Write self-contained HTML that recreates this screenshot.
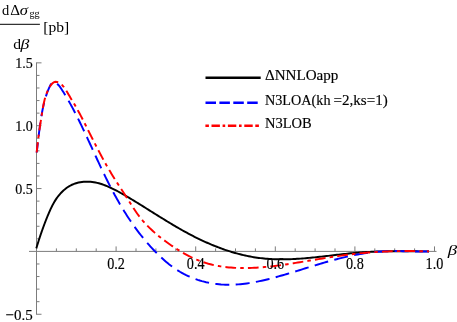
<!DOCTYPE html>
<html><head><meta charset="utf-8"><style>
html,body{margin:0;padding:0;background:#fff;}
svg{display:block;will-change:transform;}
text{font-family:"Liberation Serif",serif;}
</style></head><body>
<svg width="457" height="322" viewBox="0 0 457 322">
<rect width="457" height="322" fill="#fff"/>
<g stroke="#7c7c7c" stroke-width="1" fill="none">
<line x1="29" y1="251.4" x2="436.5" y2="251.4"/>
<line x1="36.5" y1="62.449999999999996" x2="36.5" y2="314.65"/>
<line x1="56.40" y1="251.4" x2="56.40" y2="248.4"/>
<line x1="76.30" y1="251.4" x2="76.30" y2="248.4"/>
<line x1="96.20" y1="251.4" x2="96.20" y2="248.4"/>
<line x1="116.10" y1="251.4" x2="116.10" y2="246.4"/>
<line x1="136.00" y1="251.4" x2="136.00" y2="248.4"/>
<line x1="155.90" y1="251.4" x2="155.90" y2="248.4"/>
<line x1="175.80" y1="251.4" x2="175.80" y2="248.4"/>
<line x1="195.70" y1="251.4" x2="195.70" y2="246.4"/>
<line x1="215.60" y1="251.4" x2="215.60" y2="248.4"/>
<line x1="235.50" y1="251.4" x2="235.50" y2="248.4"/>
<line x1="255.40" y1="251.4" x2="255.40" y2="248.4"/>
<line x1="275.30" y1="251.4" x2="275.30" y2="246.4"/>
<line x1="295.20" y1="251.4" x2="295.20" y2="248.4"/>
<line x1="315.10" y1="251.4" x2="315.10" y2="248.4"/>
<line x1="335.00" y1="251.4" x2="335.00" y2="248.4"/>
<line x1="354.90" y1="251.4" x2="354.90" y2="246.4"/>
<line x1="374.80" y1="251.4" x2="374.80" y2="248.4"/>
<line x1="394.70" y1="251.4" x2="394.70" y2="248.4"/>
<line x1="414.60" y1="251.4" x2="414.60" y2="248.4"/>
<line x1="434.50" y1="251.4" x2="434.50" y2="246.4"/>
<line x1="36.5" y1="314.25" x2="41.5" y2="314.25"/>
<line x1="36.5" y1="301.68" x2="39.5" y2="301.68"/>
<line x1="36.5" y1="289.11" x2="39.5" y2="289.11"/>
<line x1="36.5" y1="276.54" x2="39.5" y2="276.54"/>
<line x1="36.5" y1="263.97" x2="39.5" y2="263.97"/>
<line x1="36.5" y1="238.83" x2="39.5" y2="238.83"/>
<line x1="36.5" y1="226.26" x2="39.5" y2="226.26"/>
<line x1="36.5" y1="213.69" x2="39.5" y2="213.69"/>
<line x1="36.5" y1="201.12" x2="39.5" y2="201.12"/>
<line x1="36.5" y1="188.55" x2="41.5" y2="188.55"/>
<line x1="36.5" y1="175.98" x2="39.5" y2="175.98"/>
<line x1="36.5" y1="163.41" x2="39.5" y2="163.41"/>
<line x1="36.5" y1="150.84" x2="39.5" y2="150.84"/>
<line x1="36.5" y1="138.27" x2="39.5" y2="138.27"/>
<line x1="36.5" y1="125.70" x2="41.5" y2="125.70"/>
<line x1="36.5" y1="113.13" x2="39.5" y2="113.13"/>
<line x1="36.5" y1="100.56" x2="39.5" y2="100.56"/>
<line x1="36.5" y1="87.99" x2="39.5" y2="87.99"/>
<line x1="36.5" y1="75.42" x2="39.5" y2="75.42"/>
<line x1="36.5" y1="62.85" x2="41.5" y2="62.85"/>
</g>
<path d="M36.30,248.40 L36.80,246.71 L37.31,245.04 L37.83,243.37 L38.35,241.71 L38.87,240.05 L39.41,238.40 L39.95,236.76 L40.49,235.12 L41.05,233.48 L41.61,231.85 L42.19,230.23 L42.77,228.60 L43.36,226.98 L43.96,225.36 L44.56,223.74 L45.18,222.12 L45.81,220.50 L46.45,218.88 L47.10,217.25 L47.76,215.63 L48.44,214.01 L49.13,212.38 L49.84,210.77 L50.57,209.16 L51.33,207.57 L52.12,205.99 L52.93,204.42 L53.78,202.88 L54.67,201.37 L55.60,199.88 L56.57,198.42 L57.59,197.00 L58.66,195.61 L59.78,194.27 L60.95,192.97 L62.17,191.72 L63.44,190.52 L64.76,189.38 L66.12,188.31 L67.53,187.30 L68.98,186.37 L70.48,185.52 L72.02,184.74 L73.61,184.06 L75.23,183.46 L76.89,182.95 L78.57,182.53 L80.27,182.19 L81.98,181.94 L83.69,181.76 L85.41,181.66 L87.11,181.64 L88.81,181.68 L90.50,181.80 L92.18,181.98 L93.86,182.23 L95.53,182.53 L97.19,182.90 L98.84,183.31 L100.48,183.78 L102.12,184.30 L103.75,184.86 L105.37,185.47 L106.99,186.11 L108.60,186.80 L110.20,187.51 L111.79,188.26 L113.38,189.04 L114.96,189.84 L116.54,190.66 L118.11,191.50 L119.67,192.36 L121.22,193.24 L122.77,194.12 L124.31,195.01 L125.84,195.91 L127.37,196.80 L128.90,197.71 L130.41,198.61 L131.93,199.52 L133.43,200.43 L134.93,201.35 L136.43,202.26 L137.93,203.18 L139.42,204.10 L140.90,205.02 L142.39,205.94 L143.87,206.86 L145.34,207.78 L146.82,208.71 L148.29,209.63 L149.76,210.55 L151.23,211.47 L152.70,212.39 L154.17,213.31 L155.63,214.23 L157.10,215.15 L158.57,216.06 L160.03,216.98 L161.50,217.89 L162.97,218.79 L164.43,219.70 L165.90,220.60 L167.38,221.50 L168.85,222.39 L170.33,223.28 L171.80,224.17 L173.28,225.05 L174.77,225.92 L176.26,226.80 L177.75,227.66 L179.24,228.52 L180.74,229.38 L182.25,230.23 L183.76,231.07 L185.27,231.90 L186.79,232.73 L188.32,233.55 L189.85,234.37 L191.38,235.17 L192.93,235.97 L194.48,236.76 L196.04,237.54 L197.60,238.31 L199.17,239.08 L200.75,239.83 L202.33,240.57 L203.92,241.31 L205.51,242.03 L207.11,242.74 L208.71,243.45 L210.32,244.14 L211.94,244.82 L213.56,245.48 L215.19,246.14 L216.82,246.78 L218.45,247.41 L220.09,248.03 L221.74,248.63 L223.39,249.22 L225.04,249.80 L226.70,250.36 L228.37,250.91 L230.03,251.44 L231.70,251.96 L233.38,252.46 L235.06,252.95 L236.74,253.42 L238.42,253.87 L240.11,254.31 L241.80,254.73 L243.50,255.13 L245.20,255.51 L246.90,255.88 L248.60,256.23 L250.31,256.56 L252.02,256.88 L253.73,257.17 L255.44,257.44 L257.16,257.70 L258.88,257.93 L260.60,258.15 L262.32,258.34 L264.04,258.52 L265.77,258.67 L267.49,258.81 L269.22,258.93 L270.95,259.04 L272.68,259.12 L274.42,259.19 L276.15,259.25 L277.88,259.29 L279.62,259.31 L281.36,259.32 L283.09,259.32 L284.83,259.30 L286.57,259.27 L288.31,259.23 L290.05,259.17 L291.79,259.10 L293.53,259.03 L295.27,258.94 L297.01,258.84 L298.75,258.73 L300.48,258.61 L302.22,258.48 L303.96,258.35 L305.70,258.21 L307.44,258.06 L309.18,257.90 L310.91,257.74 L312.65,257.57 L314.38,257.39 L316.12,257.21 L317.85,257.03 L319.58,256.84 L321.32,256.65 L323.05,256.45 L324.78,256.25 L326.51,256.05 L328.24,255.85 L329.97,255.65 L331.70,255.45 L333.43,255.25 L335.16,255.05 L336.89,254.84 L338.62,254.64 L340.35,254.45 L342.08,254.25 L343.81,254.06 L345.54,253.87 L347.27,253.69 L349.00,253.51 L350.73,253.33 L352.46,253.16 L354.19,253.00 L355.92,252.84 L357.65,252.69 L359.39,252.54 L361.12,252.41 L362.86,252.28 L364.59,252.16 L366.33,252.05 L368.07,251.95 L369.80,251.86 L371.54,251.77 L373.28,251.70 L375.02,251.63 L376.76,251.57 L378.50,251.51 L380.24,251.46 L381.98,251.42 L383.72,251.38 L385.46,251.35 L387.21,251.32 L388.95,251.30 L390.69,251.28 L392.43,251.27 L394.18,251.26 L395.92,251.25 L397.66,251.25 L399.41,251.25 L401.15,251.25 L402.89,251.25 L404.64,251.26 L406.38,251.27 L408.12,251.28 L409.86,251.29 L411.61,251.30 L413.35,251.32 L415.09,251.33 L416.83,251.34 L418.57,251.35 L420.31,251.37 L422.05,251.38 L423.79,251.38 L425.53,251.39 L427.26,251.40 L429.00,251.40" stroke="#000" stroke-width="1.95" fill="none"/>
<path d="M36.70,152.50 L36.97,150.37 L37.23,148.24 L37.48,146.10 L37.73,143.95 L37.98,141.80 L38.23,139.64 L38.48,137.49 L38.73,135.33 L38.99,133.17 L39.25,131.01 L39.52,128.85 L39.81,126.69 L40.10,124.54 L40.40,122.39 L40.72,120.24 L41.05,118.10 L41.41,115.97 L41.78,113.84 L42.17,111.72 L42.58,109.61 L43.02,107.51 L43.48,105.42 L43.97,103.34 L44.49,101.27 L45.05,99.20 L45.65,97.14 L46.31,95.08 L47.02,93.00 L47.81,90.91 L48.68,88.80 L49.64,86.66 L50.72,84.63 L52.03,83.09 L53.63,82.39 L55.38,82.66 L57.09,83.71 L58.62,85.18 L59.99,86.90 L61.26,88.77 L62.49,90.66 L63.68,92.55 L64.85,94.44 L65.99,96.32 L67.10,98.20 L68.19,100.09 L69.27,101.97 L70.32,103.86 L71.36,105.75 L72.38,107.64 L73.39,109.54 L74.39,111.45 L75.38,113.36 L76.36,115.27 L77.33,117.19 L78.29,119.12 L79.25,121.05 L80.20,122.98 L81.14,124.92 L82.08,126.86 L83.01,128.81 L83.93,130.76 L84.85,132.71 L85.77,134.66 L86.68,136.62 L87.59,138.58 L88.50,140.54 L89.41,142.51 L90.31,144.47 L91.21,146.44 L92.12,148.41 L93.02,150.38 L93.92,152.34 L94.82,154.31 L95.73,156.28 L96.64,158.25 L97.54,160.22 L98.46,162.18 L99.37,164.15 L100.29,166.11 L101.21,168.07 L102.14,170.03 L103.07,171.99 L104.01,173.94 L104.96,175.89 L105.91,177.84 L106.87,179.78 L107.84,181.72 L108.81,183.66 L109.80,185.59 L110.79,187.52 L111.79,189.44 L112.80,191.36 L113.83,193.27 L114.86,195.17 L115.91,197.07 L116.96,198.97 L118.03,200.85 L119.11,202.73 L120.20,204.60 L121.30,206.47 L122.41,208.32 L123.54,210.17 L124.68,212.01 L125.83,213.84 L126.99,215.67 L128.17,217.48 L129.37,219.28 L130.57,221.07 L131.79,222.86 L133.03,224.63 L134.27,226.39 L135.54,228.14 L136.82,229.88 L138.11,231.60 L139.42,233.32 L140.75,235.02 L142.09,236.71 L143.44,238.38 L144.82,240.05 L146.21,241.70 L147.62,243.33 L149.04,244.95 L150.48,246.56 L151.94,248.15 L153.42,249.73 L154.92,251.29 L156.43,252.84 L157.96,254.36 L159.52,255.87 L161.09,257.36 L162.68,258.83 L164.30,260.27 L165.94,261.68 L167.60,263.07 L169.28,264.42 L171.00,265.74 L172.73,267.03 L174.49,268.28 L176.28,269.49 L178.10,270.66 L179.94,271.78 L181.82,272.86 L183.72,273.90 L185.65,274.89 L187.61,275.83 L189.59,276.73 L191.59,277.57 L193.61,278.38 L195.66,279.13 L197.72,279.84 L199.80,280.50 L201.89,281.11 L203.99,281.67 L206.11,282.19 L208.23,282.66 L210.36,283.08 L212.50,283.46 L214.65,283.79 L216.79,284.06 L218.94,284.29 L221.09,284.48 L223.24,284.61 L225.38,284.70 L227.53,284.75 L229.68,284.75 L231.82,284.72 L233.97,284.64 L236.11,284.53 L238.25,284.38 L240.39,284.19 L242.53,283.97 L244.67,283.72 L246.81,283.44 L248.94,283.12 L251.08,282.78 L253.21,282.41 L255.34,282.02 L257.46,281.60 L259.59,281.16 L261.71,280.70 L263.83,280.22 L265.94,279.71 L268.06,279.20 L270.17,278.66 L272.27,278.11 L274.38,277.55 L276.48,276.98 L278.57,276.39 L280.66,275.80 L282.75,275.20 L284.84,274.59 L286.92,273.98 L289.00,273.36 L291.07,272.73 L293.15,272.11 L295.22,271.47 L297.29,270.84 L299.36,270.20 L301.42,269.56 L303.49,268.92 L305.56,268.28 L307.62,267.65 L309.69,267.01 L311.75,266.38 L313.82,265.74 L315.88,265.12 L317.95,264.49 L320.02,263.88 L322.09,263.26 L324.16,262.66 L326.23,262.06 L328.31,261.47 L330.39,260.89 L332.47,260.32 L334.55,259.76 L336.64,259.21 L338.73,258.67 L340.83,258.14 L342.93,257.63 L345.03,257.13 L347.14,256.65 L349.26,256.18 L351.38,255.73 L353.50,255.29 L355.63,254.87 L357.76,254.47 L359.89,254.09 L362.03,253.73 L364.17,253.38 L366.32,253.06 L368.46,252.76 L370.61,252.49 L372.77,252.23 L374.92,252.00 L377.08,251.80 L379.23,251.62 L381.39,251.46 L383.55,251.34 L385.71,251.24 L387.88,251.16 L390.04,251.11 L392.20,251.09 L394.37,251.08 L396.53,251.09 L398.69,251.11 L400.86,251.14 L403.02,251.18 L405.19,251.23 L407.36,251.28 L409.52,251.33 L411.69,251.38 L413.85,251.43 L416.02,251.47 L418.18,251.50 L420.35,251.51 L422.51,251.51 L424.67,251.50 L426.84,251.46 L429.00,251.40" stroke="#0000ff" stroke-width="1.95" fill="none" stroke-dasharray="14.0 6.38" stroke-dashoffset="4.18"/>
<path d="M36.70,152.50 L36.89,150.39 L37.10,148.28 L37.32,146.19 L37.56,144.10 L37.80,142.02 L38.06,139.95 L38.33,137.88 L38.60,135.81 L38.89,133.75 L39.18,131.69 L39.48,129.63 L39.79,127.58 L40.10,125.52 L40.41,123.46 L40.73,121.40 L41.06,119.34 L41.38,117.27 L41.71,115.20 L42.03,113.12 L42.36,111.04 L42.71,108.95 L43.07,106.87 L43.46,104.79 L43.89,102.72 L44.37,100.67 L44.90,98.62 L45.50,96.60 L46.17,94.60 L46.92,92.62 L47.77,90.67 L48.71,88.75 L49.76,86.87 L50.92,85.09 L52.23,83.54 L53.70,82.41 L55.35,81.85 L57.16,81.96 L58.98,82.63 L60.66,83.70 L62.21,85.09 L63.63,86.74 L64.96,88.57 L66.21,90.52 L67.40,92.51 L68.53,94.47 L69.64,96.36 L70.73,98.16 L71.79,99.91 L72.84,101.63 L73.88,103.35 L74.90,105.08 L75.91,106.84 L76.92,108.62 L77.91,110.42 L78.90,112.23 L79.88,114.07 L80.86,115.91 L81.83,117.77 L82.79,119.63 L83.75,121.51 L84.71,123.39 L85.66,125.28 L86.61,127.17 L87.56,129.07 L88.51,130.96 L89.46,132.85 L90.40,134.74 L91.35,136.62 L92.30,138.50 L93.25,140.38 L94.21,142.26 L95.17,144.13 L96.13,145.99 L97.09,147.85 L98.06,149.71 L99.03,151.56 L100.01,153.41 L100.99,155.26 L101.98,157.09 L102.98,158.93 L103.99,160.76 L105.00,162.58 L106.02,164.40 L107.05,166.22 L108.09,168.02 L109.14,169.83 L110.20,171.62 L111.27,173.41 L112.35,175.20 L113.44,176.98 L114.55,178.75 L115.66,180.52 L116.79,182.29 L117.92,184.05 L119.06,185.81 L120.20,187.56 L121.35,189.32 L122.50,191.08 L123.65,192.83 L124.80,194.59 L125.95,196.35 L127.10,198.12 L128.25,199.88 L129.39,201.66 L130.53,203.43 L131.66,205.22 L132.79,207.00 L133.93,208.77 L135.09,210.53 L136.27,212.27 L137.48,213.98 L138.72,215.67 L139.99,217.32 L141.30,218.95 L142.64,220.55 L144.01,222.11 L145.41,223.65 L146.84,225.17 L148.30,226.66 L149.78,228.12 L151.29,229.56 L152.82,230.97 L154.38,232.36 L155.96,233.73 L157.55,235.08 L159.17,236.41 L160.81,237.72 L162.47,239.01 L164.14,240.28 L165.83,241.53 L167.53,242.77 L169.25,243.99 L170.98,245.19 L172.72,246.38 L174.48,247.55 L176.25,248.70 L178.03,249.82 L179.82,250.93 L181.63,252.01 L183.45,253.07 L185.28,254.09 L187.13,255.09 L188.99,256.06 L190.87,257.00 L192.76,257.90 L194.66,258.77 L196.58,259.61 L198.51,260.40 L200.46,261.16 L202.41,261.87 L204.39,262.54 L206.38,263.17 L208.38,263.76 L210.40,264.30 L212.43,264.80 L214.47,265.25 L216.52,265.67 L218.58,266.05 L220.65,266.39 L222.73,266.70 L224.81,266.97 L226.89,267.21 L228.99,267.41 L231.08,267.59 L233.18,267.73 L235.27,267.85 L237.37,267.94 L239.47,268.00 L241.56,268.04 L243.66,268.05 L245.75,268.05 L247.84,268.01 L249.93,267.96 L252.02,267.89 L254.11,267.79 L256.20,267.68 L258.28,267.54 L260.37,267.39 L262.45,267.23 L264.54,267.04 L266.62,266.84 L268.70,266.63 L270.78,266.40 L272.86,266.16 L274.94,265.91 L277.02,265.64 L279.10,265.37 L281.18,265.08 L283.25,264.79 L285.33,264.48 L287.40,264.17 L289.48,263.86 L291.55,263.53 L293.62,263.21 L295.70,262.87 L297.77,262.54 L299.84,262.20 L301.91,261.86 L303.98,261.52 L306.05,261.18 L308.12,260.83 L310.19,260.49 L312.26,260.15 L314.33,259.81 L316.40,259.46 L318.47,259.12 L320.54,258.79 L322.61,258.45 L324.67,258.12 L326.74,257.79 L328.81,257.47 L330.88,257.15 L332.95,256.83 L335.03,256.52 L337.10,256.21 L339.17,255.91 L341.24,255.62 L343.32,255.33 L345.39,255.05 L347.46,254.78 L349.54,254.51 L351.62,254.26 L353.69,254.01 L355.77,253.77 L357.85,253.54 L359.93,253.32 L362.02,253.12 L364.10,252.92 L366.18,252.73 L368.27,252.56 L370.36,252.39 L372.45,252.24 L374.53,252.10 L376.63,251.96 L378.72,251.84 L380.81,251.73 L382.90,251.62 L384.99,251.53 L387.09,251.44 L389.18,251.37 L391.28,251.30 L393.37,251.24 L395.47,251.19 L397.57,251.15 L399.66,251.12 L401.76,251.09 L403.86,251.07 L405.95,251.06 L408.05,251.06 L410.15,251.07 L412.24,251.08 L414.34,251.10 L416.43,251.12 L418.53,251.15 L420.63,251.19 L422.72,251.23 L424.81,251.28 L426.91,251.34 L429.00,251.40" stroke="#ff0000" stroke-width="1.95" fill="none" stroke-dasharray="10.7 4.165 3.5 4.165" stroke-dashoffset="0.30"/>
<line x1="205.5" y1="77.65" x2="260.7" y2="77.65" stroke="#000" stroke-width="2.5"/>
<line x1="205.5" y1="102.7" x2="258.2" y2="102.7" stroke="#0000ff" stroke-width="2.5" stroke-dasharray="10.5 3.4"/>
<line x1="205.4" y1="125.65" x2="259" y2="125.65" stroke="#ff0000" stroke-width="2.5" stroke-dasharray="3.5 2.6 8.4 2.7 2.6 2.7 8.4 2.7 2.6 2.7 8.4 2.6 3.6"/>
<line x1="0" y1="24.3" x2="39.9" y2="24.3" stroke="#000" stroke-width="1"/>
<g fill="#000" stroke="#000" stroke-width="0.15"><text transform="translate(265.00,79.50) scale(1.04,1.06)" font-size="14.5" >ΔNNLOapp</text>
<text transform="translate(265.00,104.50) scale(0.98,1.06)" font-size="14.5" >N3LOA(kh</text>
<text transform="translate(333.50,104.50) scale(1.04,1.06)" font-size="14.5" >=2,ks=1)</text>
<text transform="translate(265.00,128.00) scale(1.0,1.06)" font-size="14.5" >N3LOB</text>
<text transform="translate(15.20,68.15) scale(0.97,1.06)" font-size="14.5" >1.5</text>
<text transform="translate(15.20,131.00) scale(0.97,1.06)" font-size="14.5" >1.0</text>
<text transform="translate(15.20,193.85) scale(0.97,1.06)" font-size="14.5" >0.5</text>
<text transform="translate(5.60,319.75) scale(1.035,1.06)" font-size="14.5" >−0.5</text>
<text transform="translate(107.20,269.40) scale(0.98,1.12)" font-size="14.5" >0.2</text>
<text transform="translate(186.80,269.40) scale(0.98,1.12)" font-size="14.5" >0.4</text>
<text transform="translate(266.40,269.40) scale(0.98,1.12)" font-size="14.5" >0.6</text>
<text transform="translate(346.00,269.40) scale(0.98,1.12)" font-size="14.5" >0.8</text>
<text transform="translate(425.60,269.40) scale(0.98,1.12)" font-size="14.5" >1.0</text>
<text transform="translate(447.80,254.90) scale(1.3,1.0)" font-size="14.5" stroke-width="0" font-style="italic">β</text>
<text transform="translate(2.10,15.00) scale(1.0,1.05)" font-size="14.5" stroke-width="0" >d</text>
<text transform="translate(10.30,15.00) scale(1.05,1.07)" font-size="14.5" stroke-width="0" >Δ</text>
<text transform="translate(19.80,15.00) scale(1.15,1.05)" font-size="14.5" stroke-width="0" font-style="italic">σ</text>
<text transform="translate(29.40,17.00) scale(1.0,1.0)" font-size="10.2" stroke-width="0" >gg</text>
<text transform="translate(43.20,32.40) scale(1.075,1.05)" font-size="14.5" stroke-width="0" >[pb]</text>
<text transform="translate(13.30,48.60) scale(1.08,1.02)" font-size="14.5" stroke-width="0" >d</text>
<text transform="translate(20.50,48.60) scale(1.22,0.96)" font-size="14.5" stroke-width="0" font-style="italic">β</text></g>
</svg>
</body></html>
